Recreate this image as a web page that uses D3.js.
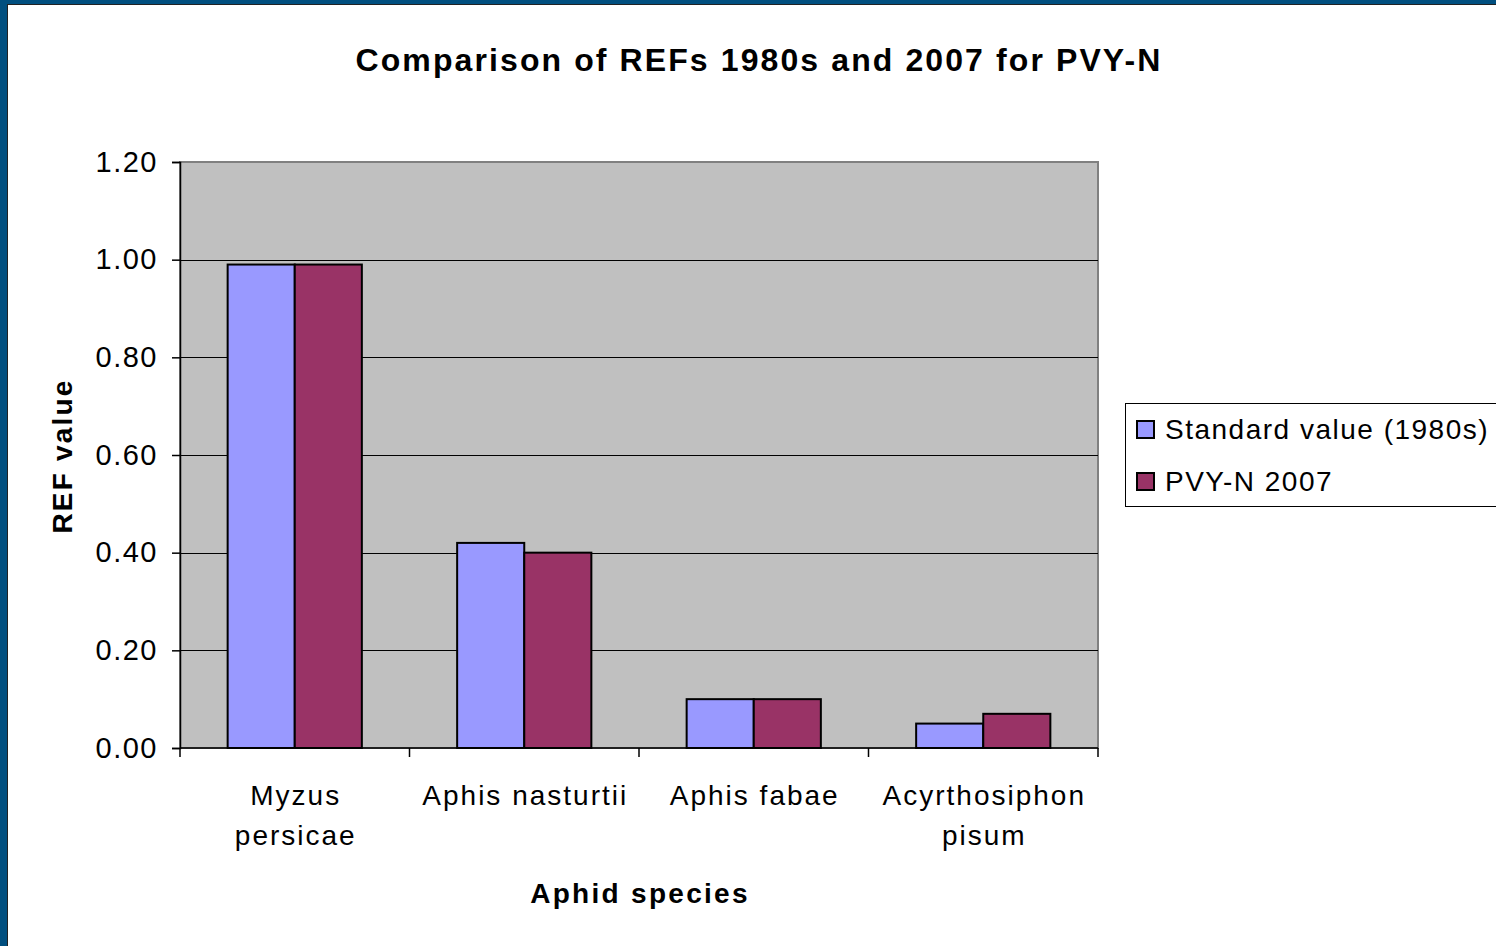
<!DOCTYPE html>
<html>
<head>
<meta charset="utf-8">
<script src="https://cdn.jsdelivr.net/npm/d3@7"></script>
<style>
  html, body { margin: 0; padding: 0; background: #fff; }
  svg { display: block; font-family: "Liberation Sans", Arial, sans-serif; }
</style>
</head>
<body>
<svg id="chart" width="1496" height="946"></svg>
<script>
const categories = [["Myzus", "persicae"], ["Aphis nasturtii"], ["Aphis fabae"], ["Acyrthosiphon", "pisum"]];
const seriesNames = ["Standard value (1980s)", "PVY-N 2007"];
const standard1980s = [0.99, 0.42, 0.10, 0.05];
const pvyN2007 = [0.99, 0.40, 0.10, 0.07];
const yTicks = [0, 0.2, 0.4, 0.6, 0.8, 1.0, 1.2];
const colors = ["#9999FF", "#993366"];

const svg = d3.select("#chart");

// window frame
svg.append("rect").attr("x", 0).attr("y", 0).attr("width", 1496).attr("height", 946).attr("fill", "#014F7F");
svg.append("rect").attr("x", 7).attr("y", 4).attr("width", 1489).attr("height", 942).attr("fill", "#222");
svg.append("rect").attr("x", 8).attr("y", 5).attr("width", 1488).attr("height", 941).attr("fill", "#fff");

const plot = { left: 180, top: 162, right: 1098, bottom: 748 };

const x0 = d3.scaleBand().domain(d3.range(categories.length)).range([plot.left, plot.right]).paddingInner(0).paddingOuter(0);
const x1 = d3.scaleBand().domain([0, 1]).range([0, x0.bandwidth()]).paddingOuter(0.71).paddingInner(0);
const y = d3.scaleLinear().domain([0, 1.2]).range([plot.bottom, plot.top]);

// plot background
svg.append("rect")
  .attr("x", plot.left).attr("y", plot.top)
  .attr("width", plot.right - plot.left).attr("height", plot.bottom - plot.top)
  .attr("fill", "#C0C0C0").attr("stroke", "#808080").attr("stroke-width", 2);

// gridlines
svg.append("g").selectAll("line").data(yTicks.filter(d => d > 0 && d < 1.2)).join("line")
  .attr("x1", plot.left).attr("x2", plot.right)
  .attr("y1", d => Math.round(y(d)) + 0.5).attr("y2", d => Math.round(y(d)) + 0.5)
  .attr("stroke", "#000").attr("stroke-width", 1);

// bars
const data = categories.map((c, i) => [standard1980s[i], pvyN2007[i]]);
const groups = svg.append("g").selectAll("g").data(data).join("g")
  .attr("transform", (d, i) => `translate(${x0(i)},0)`);
groups.selectAll("rect").data(d => d.map((v, s) => ({ v, s }))).join("rect")
  .attr("x", d => x1(d.s))
  .attr("y", d => y(d.v))
  .attr("width", x1.bandwidth())
  .attr("height", d => y(0) - y(d.v))
  .attr("fill", d => colors[d.s])
  .attr("stroke", "#000").attr("stroke-width", 2);

// y axis
const yAxis = d3.axisLeft(y).tickValues(yTicks).tickFormat(d3.format(".2f")).tickSize(8).tickPadding(14);
const yg = svg.append("g").attr("transform", `translate(${plot.left},0)`).call(yAxis);
yg.select(".domain").attr("stroke", "#000").attr("stroke-width", 1.5);
yg.selectAll(".tick line").attr("stroke", "#000").attr("stroke-width", 1.5);
yg.selectAll(".tick text").attr("font-size", 29).attr("letter-spacing", 1.5).attr("fill", "#000")
  .attr("font-family", "Liberation Sans, Arial, sans-serif");

// x axis line and category ticks
const xg = svg.append("g");
xg.append("line").attr("x1", plot.left).attr("x2", plot.right).attr("y1", plot.bottom).attr("y2", plot.bottom)
  .attr("stroke", "#000").attr("stroke-width", 1.5);
xg.selectAll("line.t").data(d3.range(categories.length + 1)).join("line").attr("class", "t")
  .attr("x1", i => i < categories.length ? x0(i) : plot.right)
  .attr("x2", i => i < categories.length ? x0(i) : plot.right)
  .attr("y1", plot.bottom).attr("y2", plot.bottom + 9)
  .attr("stroke", "#000").attr("stroke-width", 1.5);

// category labels
const lab = svg.append("g").selectAll("text").data(categories).join("text")
  .attr("x", (d, i) => x0(i) + x0.bandwidth() / 2 + 1)
  .attr("y", 805)
  .attr("text-anchor", "middle").attr("font-size", 28).attr("letter-spacing", 2).attr("fill", "#000");
lab.selectAll("tspan").data(d => d).join("tspan")
  .attr("x", function () { return this.parentNode.getAttribute("x"); })
  .attr("dy", (d, i) => i === 0 ? 0 : 40)
  .text(d => d);

// titles
svg.append("text").attr("x", 759).attr("y", 71).attr("text-anchor", "middle")
  .attr("font-size", 32).attr("letter-spacing", 2.1).attr("font-weight", "bold")
  .text("Comparison of REFs 1980s and 2007 for PVY-N");
svg.append("text").attr("x", (plot.left + plot.right) / 2 + 1).attr("y", 903).attr("text-anchor", "middle")
  .attr("font-size", 28).attr("letter-spacing", 2.3).attr("font-weight", "bold").text("Aphid species");
svg.append("text").attr("transform", `translate(72,${(plot.top + plot.bottom) / 2 + 1}) rotate(-90)`)
  .attr("text-anchor", "middle").attr("font-size", 28).attr("letter-spacing", 2.2).attr("font-weight", "bold")
  .text("REF value");

// legend
const lg = svg.append("g");
lg.append("rect").attr("x", 1125.5).attr("y", 403.5).attr("width", 420).attr("height", 103)
  .attr("fill", "#fff").attr("stroke", "#000").attr("stroke-width", 1);
const items = lg.selectAll("g").data(seriesNames).join("g")
  .attr("transform", (d, i) => `translate(1137,${421 + i * 52})`);
items.append("rect").attr("width", 17).attr("height", 17)
  .attr("fill", (d, i) => colors[i]).attr("stroke", "#000").attr("stroke-width", 2);
items.append("text").attr("x", 28).attr("y", 18).attr("font-size", 28).attr("letter-spacing", 1.5)
  .attr("fill", "#000").text(d => d);
</script>
</body>
</html>
